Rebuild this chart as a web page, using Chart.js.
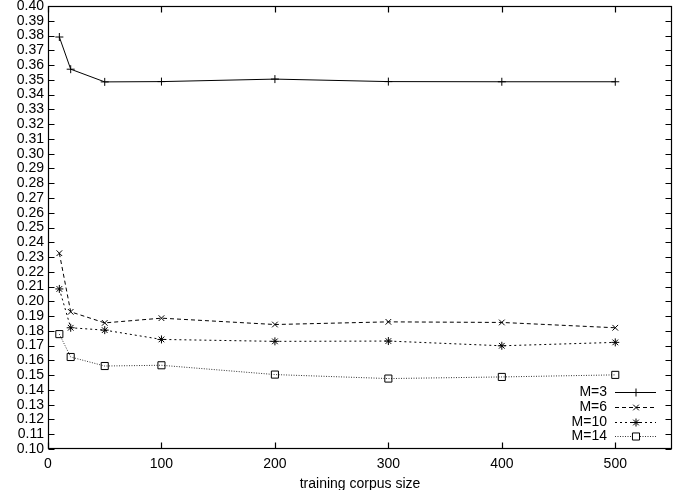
<!DOCTYPE html>
<html><head><meta charset="utf-8">
<script src="https://cdn.jsdelivr.net/npm/chart.js@4/dist/chart.umd.min.js"></script>
<style>html,body{margin:0;padding:0;background:#fff}#wrap{width:678px;height:490px;position:relative}</style>
</head><body><div id="wrap"><canvas id="c" width="678" height="490"></canvas></div>
<script>
const corpusSizes = [10, 20, 50, 100, 200, 300, 400, 500];
const m3  = [0.3790, 0.3572, 0.3486, 0.3488, 0.3505, 0.3488, 0.3487, 0.3487];
const m6  = [0.2326, 0.1929, 0.1854, 0.1886, 0.1843, 0.1861, 0.1857, 0.1821];
const m10 = [0.2084, 0.1821, 0.1805, 0.1742, 0.1729, 0.1731, 0.1699, 0.1722];
const m14 = [0.1778, 0.1623, 0.1562, 0.1567, 0.1504, 0.1477, 0.1488, 0.1502];
const seriesLabels = ['M=3', 'M=6', 'M=10', 'M=14'];
const xTickValues = [0, 100, 200, 300, 400, 500];
const yTickValues = [0.10,0.11,0.12,0.13,0.14,0.15,0.16,0.17,0.18,0.19,0.20,0.21,0.22,0.23,0.24,0.25,0.26,0.27,0.28,0.29,0.30,0.31,0.32,0.33,0.34,0.35,0.36,0.37,0.38,0.39,0.40];
const xTitle = 'training corpus size';

const FONT = 'Liberation Sans, Arial, Helvetica, sans-serif';
const styles = [
  {pointStyle:'cross', radius:4, dash:[], color:'#000'},
  {pointStyle:'crossRot', radius:4, dash:[4,3], color:'#000'},
  {pointStyle:'star', radius:4, dash:[2,3], color:'#000'},
  {pointStyle:'rect', radius:5, dash:[1,1.5], color:'#333'}
];
const seriesData = [m3, m6, m10, m14];

const datasets = seriesData.map((vals, i) => ({
  label: seriesLabels[i],
  data: corpusSizes.map((x, j) => ({x: x, y: vals[j]})),
  borderColor: styles[i].color,
  backgroundColor: 'rgba(0,0,0,0)',
  borderWidth: 1,
  borderDash: styles[i].dash,
  pointStyle: styles[i].pointStyle,
  pointRadius: styles[i].radius,
  pointBorderColor: '#000',
  pointBackgroundColor: 'rgba(0,0,0,0)',
  pointBorderWidth: 1,
  tension: 0,
  fill: false
}));

const framePlugin = {
  id: 'frame',
  afterDraw(chart) {
    const {ctx, chartArea: a, scales} = chart;
    ctx.save();
    ctx.strokeStyle = '#000';
    ctx.lineWidth = 1.2;
    ctx.setLineDash([]);
    const L = Math.round(a.left) + 0.5, R = Math.round(a.right) - 0.5;
    const T = Math.round(a.top) + 0.5, B = Math.round(a.bottom) - 0.5;
    ctx.strokeRect(L, T, R - L, B - T);
    const tl = 6;
    ctx.beginPath();
    yTickValues.forEach(v => {
      const y = Math.round(scales.y.getPixelForValue(v)) + 0.5;
      ctx.moveTo(L, y); ctx.lineTo(L + tl, y);
      ctx.moveTo(R, y); ctx.lineTo(R - tl, y);
    });
    xTickValues.forEach(v => {
      const x = Math.round(scales.x.getPixelForValue(v)) + 0.5;
      ctx.moveTo(x, B); ctx.lineTo(x, B - tl);
      ctx.moveTo(x, T); ctx.lineTo(x, T + tl);
    });
    ctx.stroke();

    // gnuplot-style key
    const rowY = [392, 407, 421.5, 436];
    const textRight = 607, lx1 = 615, lx2 = 656, mx = 636;
    ctx.font = '14px ' + FONT;
    ctx.fillStyle = '#000';
    ctx.textAlign = 'right';
    ctx.textBaseline = 'middle';
    seriesLabels.forEach((lab, i) => {
      const y = rowY[i];
      ctx.fillText(lab, textRight, y + 0.5);
      ctx.save();
      ctx.strokeStyle = styles[i].color;
      ctx.lineWidth = 1;
      ctx.setLineDash(styles[i].dash);
      ctx.beginPath();
      ctx.moveTo(lx1, Math.round(y) + 0.5); ctx.lineTo(lx2, Math.round(y) + 0.5);
      ctx.stroke();
      ctx.setLineDash([]);
      ctx.strokeStyle = '#000';
      ctx.fillStyle = '#fff';
      Chart.helpers.drawPoint(ctx, {pointStyle: styles[i].pointStyle, radius: styles[i].radius, rotation: 0, borderWidth: 1}, mx, Math.round(y) + 0.5);
      ctx.restore();
    });
    ctx.restore();
  }
};

new Chart(document.getElementById('c'), {
  type: 'line',
  data: {datasets},
  options: {
    responsive: false,
    animation: false,
    devicePixelRatio: 1,
    layout: {padding: {top: 4, right: 5, left: 0, bottom: 0}},
    plugins: {legend: {display: false}, tooltip: {enabled: false}},
    scales: {
      x: {
        type: 'linear', min: 0, max: 550,
        grid: {display: false, drawTicks: false},
        border: {display: false},
        afterBuildTicks: s => { s.ticks = xTickValues.map(v => ({value: v})); },
        afterFit: s => { s.height = 41; s.paddingLeft = 0; s.paddingRight = 0; },
        ticks: {padding: 7, color: '#000', font: {family: FONT, size: 14}, maxRotation: 0, autoSkip: false,
          callback: v => String(v)},
        title: {display: true, text: xTitle, color: '#000', font: {family: FONT, size: 14}, padding: {top: 0, bottom: -3}}
      },
      y: {
        type: 'linear', min: 0.10, max: 0.40,
        grid: {display: false, drawTicks: false},
        border: {display: false},
        afterBuildTicks: s => { s.ticks = yTickValues.map(v => ({value: v})); },
        afterFit: s => { s.width = 48; s.paddingTop = 0; s.paddingBottom = 0; },
        ticks: {padding: 4, color: '#000', font: {family: FONT, size: 14}, autoSkip: false,
          callback: v => Number(v).toFixed(2)}
      }
    }
  },
  plugins: [framePlugin]
});
</script>
</body></html>
